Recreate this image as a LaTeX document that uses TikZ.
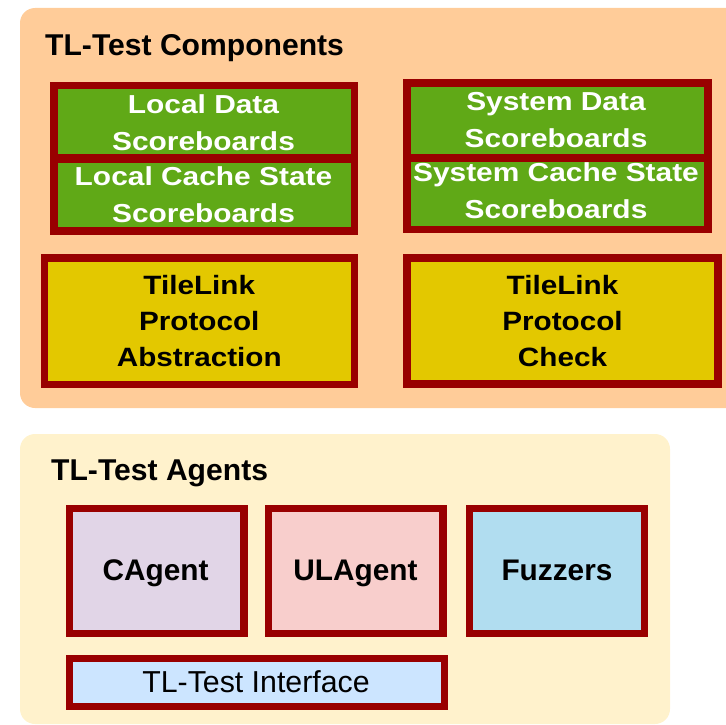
\documentclass[tikz,border=0pt]{standalone}
\usepackage{fontspec}
\setmainfont{Liberation Sans}
% widened bold faces for the scoreboard and protocol boxes
\newfontfamily\sbfont[FakeStretch=1.15]{Liberation Sans Bold}
\newfontfamily\tlfont[FakeStretch=1.12]{Liberation Sans Bold}

\definecolor{panelorange}{HTML}{FFCC99}
\definecolor{panelcream}{HTML}{FFF2CC}
\definecolor{framered}{HTML}{990000}
\definecolor{sbgreen}{HTML}{60A917}
\definecolor{tlyellow}{HTML}{E3C800}
\definecolor{cagentfill}{HTML}{E1D5E7}
\definecolor{ulagentfill}{HTML}{F8CECC}
\definecolor{fuzzfill}{HTML}{B1DDF0}
\definecolor{iffill}{HTML}{CCE5FF}

\tikzset{
  plain/.style={rectangle, inner sep=0pt, outer sep=0pt},
  panel/.style={plain, rounded corners=15pt},
  redframe/.style={plain, draw=framered, line width=7.4pt},
  sbbox/.style={plain, fill=sbgreen},
  title/.style={inner sep=0pt, anchor=base west, font=\bfseries\fontsize{30.1}{34}\selectfont},
  sbtext/.style={inner sep=0pt, align=center, text=white, font=\sbfont\fontsize{26}{37}\selectfont},
  tltext/.style={inner sep=0pt, align=center, font=\tlfont\fontsize{26.5}{36.3}\selectfont},
  agtext/.style={inner sep=0pt, anchor=base, font=\bfseries\fontsize{29.8}{34}\selectfont},
}

\begin{document}
\begin{tikzpicture}[x=1pt, y=-1pt]
\useasboundingbox (0,0) rectangle (726,725);
\clip (0,0) rectangle (726,725);

% ---- background panels ----
\node[panel, fill=panelorange, minimum width=740pt, minimum height=400pt] (comp) at (390,208) {};
\node[panel, fill=panelcream, minimum width=650pt, minimum height=290pt] (agents) at (345,579) {};

\node[title] (compT) at (45,56) {TL-Test Components};
\node[title] (agentsT) at (51,480) {TL-Test Agents};

% ---- scoreboards ----
\node[plain, fill=framered, minimum width=308pt, minimum height=152.7pt] (localG) at (204,158.65) {};
\node[sbbox, minimum width=293.3pt, minimum height=65.3pt] (localData) at (204.35,121.65) {};
\node[sbbox, minimum width=293.3pt, minimum height=63.4pt] (localCache) at (204.35,195) {};
\node[sbtext] (localDataT) at (203.5,122.4) {Local Data\\Scoreboards};
\node[sbtext] (localCacheT) at (203.5,194.5) {Local Cache State\\Scoreboards};

\node[plain, fill=framered, minimum width=308.4pt, minimum height=154pt] (sysG) at (557.5,156.3) {};
\node[sbbox, minimum width=293.3pt, minimum height=67.6pt] (sysData) at (557.65,120.5) {};
\node[sbbox, minimum width=293.3pt, minimum height=64pt] (sysCache) at (557.65,193.7) {};
\node[sbtext] (sysDataT) at (556,120.5) {System Data\\Scoreboards};
\node[sbtext] (sysCacheT) at (556,190.4) {System Cache State\\Scoreboards};

% ---- TileLink protocol boxes ----
\node[redframe, fill=tlyellow, minimum width=310.2pt, minimum height=126.6pt] (tlAbs) at (199.5,321.3) {};
\node[tltext] (tlAbsT) at (199.3,320.9) {TileLink\\Protocol\\Abstraction};
\node[redframe, fill=tlyellow, minimum width=311pt, minimum height=126pt] (tlChk) at (562.5,321) {};
\node[tltext] (tlChkT) at (562.5,320.9) {TileLink\\Protocol\\Check};

% ---- agents ----
\node[redframe, fill=cagentfill, minimum width=174.3pt, minimum height=124.9pt] (cagent) at (156.85,571.15) {};
\node[redframe, fill=ulagentfill, minimum width=174.5pt, minimum height=124.9pt] (ulagent) at (355.75,571.15) {};
\node[redframe, fill=fuzzfill, minimum width=174.9pt, minimum height=124.9pt] (fuzz) at (557.15,571.15) {};
\node[agtext] (cagentT) at (155.5,580) {CAgent};
\node[agtext] (ulagentT) at (355.5,580) {ULAgent};
\node[agtext] (fuzzT) at (557,580) {Fuzzers};

\node[redframe, fill=iffill, minimum width=374.9pt, minimum height=47.6pt] (iface) at (257.15,682.5) {};
\node[inner sep=0pt, anchor=base, font=\fontsize{30.3}{34}\selectfont] (ifaceT) at (256,692.7) {TL-Test Interface};
\end{tikzpicture}
\end{document}
